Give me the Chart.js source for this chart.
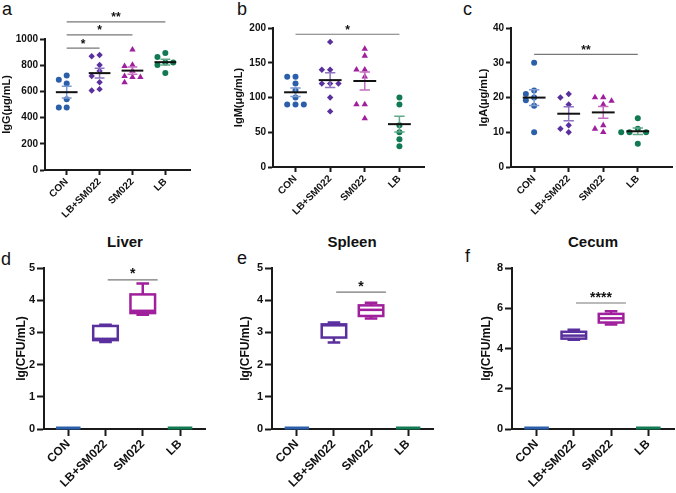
<!DOCTYPE html>
<html><head><meta charset="utf-8">
<script src="https://cdn.jsdelivr.net/npm/chart.js@4.4.1/dist/chart.umd.min.js"></script>
<style>
body{margin:0;background:#fff;width:676px;height:493px;position:relative;overflow:hidden;font-family:"Liberation Sans",Arial,sans-serif;}
canvas{position:absolute;}
.lbl{position:absolute;font-size:18px;color:#111;line-height:18px;}
.ttl{position:absolute;font-size:15px;font-weight:bold;color:#111;line-height:15px;transform:translateX(-50%);white-space:nowrap;}
</style></head><body>
<div class="lbl" style="left:2px;top:0px">a</div>
<div class="lbl" style="left:237px;top:0px">b</div>
<div class="lbl" style="left:463px;top:0px">c</div>
<div class="lbl" style="left:1px;top:250px">d</div>
<div class="lbl" style="left:237px;top:249px">e</div>
<div class="lbl" style="left:465px;top:247px">f</div>
<div class="ttl" style="left:125px;top:234px">Liver</div>
<div class="ttl" style="left:352px;top:234px">Spleen</div>
<div class="ttl" style="left:593px;top:234px">Cecum</div>
<canvas id="ca" width="226" height="235" style="left:0px;top:0px"></canvas>
<canvas id="cb" width="219" height="235" style="left:232px;top:0px"></canvas>
<canvas id="cc" width="199" height="235" style="left:477px;top:0px"></canvas>
<canvas id="cd" width="224" height="258" style="left:14px;top:235px"></canvas>
<canvas id="ce" width="241" height="258" style="left:238px;top:235px"></canvas>
<canvas id="cf" width="197" height="258" style="left:479px;top:235px"></canvas>
<script>
// ---------- data ----------
const categories = ['CON', 'LB+SM022', 'SM022', 'LB'];

const iggCON  = [721, 688, 660, 541, 477, 477];
const iggLBSM = [878, 868, 802, 756, 718, 670, 617, 607];
const iggSM   = [919, 802, 792, 756, 716, 708, 708, 668];
const iggLB   = [893, 863, 820, 820, 802, 741];

const igmCON  = [130, 130, 120, 110, 100, 90, 90, 90];
const igmLBSM = [180, 140, 140, 120, 120, 120, 100, 80];
const igmSM   = [170, 160, 140, 140, 130, 90, 90, 70];
const igmLB   = [100, 90, 60, 50, 40, 30];

const igaCON  = [30, 22, 21, 20, 19.2, 17.6, 10];
const igaLBSM = [21, 20, 18, 12, 11, 10];
const igaSM   = [20, 20, 19, 18, 12, 11, 10];
const igaLB   = [14, 11, 10, 10, 10, 6.7];

// box summaries: [min, q1, median, q3, max]
const liverCON  = [0, 0, 0, 0, 0];
const liverLBSM = [2.70, 2.76, 2.80, 3.20, 3.24];
const liverSM   = [3.55, 3.60, 3.67, 4.18, 4.52];
const liverLB   = [0, 0, 0, 0, 0];

const spleenCON  = [0, 0, 0, 0, 0];
const spleenLBSM = [2.69, 2.84, 3.22, 3.25, 3.31];
const spleenSM   = [3.43, 3.51, 3.70, 3.84, 3.92];
const spleenLB   = [0, 0, 0, 0, 0];

const cecumCON  = [0, 0, 0, 0, 0];
const cecumLBSM = [4.43, 4.49, 4.64, 4.83, 4.93];
const cecumSM   = [5.19, 5.29, 5.50, 5.72, 5.85];
const cecumLB   = [0, 0, 0, 0, 0];

const iggTicks = [0, 200, 400, 600, 800, 1000];
const igmTicks = [0, 50, 100, 150, 200];
const igaTicks = [0, 10, 20, 30, 40];
const cfuTicks = [0, 1, 2, 3, 4, 5];
const cecumTicks = [0, 2, 4, 6, 8];

// significance: [groupA, groupB, label, level]
const sigIgG = [[0, 1, '*', 931], [0, 2, '*', 1031], [0, 3, '**', 1130]];
const sigIgM = [[0, 3, '*', 191]];
const sigIgA = [[0, 3, '**', 32.4]];
const sigLiver = [[1, 2, '*', 4.63]];
const sigSpleen = [[1, 2, '*', 4.25]];
const sigCecum = [[1, 2, '****', 6.26]];

// ---------- style ----------
const FF = '"Liberation Sans", Arial, Helvetica, sans-serif';
const groupColors = ['#2c5faa', '#5a2f9e', '#a01f9c', '#127a52'];
const errColors = ['#7b9bd0', '#8f72c0', '#c56ec0', '#62a98a'];
const pointStyles = ['circle', 'rectRot', 'triangle', 'circle'];
const pointRadii = [3, 3.2, 3.7, 3];
const AX = '#1a1a1a';

function swarm(vals, thresh, step) {
  const idx = vals.map((v, i) => i).sort((a, b) => vals[b] - vals[a]);
  const placed = [];
  const off = new Array(vals.length).fill(0);
  const cands = [0, -1, 1, -2, 2, -3, 3];
  idx.forEach(i => {
    for (const c of cands) {
      if (!placed.some(p => p.c === c && Math.abs(p.v - vals[i]) < thresh)) {
        off[i] = c * step; placed.push({c, v: vals[i]}); break;
      }
    }
  });
  return off;
}

const statsPlugin = {
  id: 'stats',
  afterDatasetsDraw(chart, args, opts) {
    const {ctx} = chart;
    const x = chart.scales.x, y = chart.scales.y;
    ctx.save();
    ctx.lineCap = 'butt';
    (opts.groups || []).forEach((vals, i) => {
      const n = vals.length;
      const mean = vals.reduce((a, b) => a + b, 0) / n;
      const sd = Math.sqrt(vals.reduce((a, b) => a + (b - mean) ** 2, 0) / (n - 1));
      const sem = sd / Math.sqrt(n);
      const xc = x.getPixelForValue(i);
      const cw = x.getPixelForValue(i + 0.15) - xc;
      const mw = x.getPixelForValue(i + 0.33) - xc;
      const yT = y.getPixelForValue(mean + sem), yB = y.getPixelForValue(mean - sem), yM = y.getPixelForValue(mean);
      ctx.strokeStyle = errColors[i]; ctx.lineWidth = 1.5;
      ctx.beginPath();
      ctx.moveTo(xc, yT); ctx.lineTo(xc, yB);
      ctx.moveTo(xc - cw, yT); ctx.lineTo(xc + cw, yT);
      ctx.moveTo(xc - cw, yB); ctx.lineTo(xc + cw, yB);
      ctx.stroke();
      ctx.strokeStyle = '#111'; ctx.lineWidth = 2;
      ctx.beginPath(); ctx.moveTo(xc - mw, yM); ctx.lineTo(xc + mw, yM); ctx.stroke();
    });
    (opts.boxes || []).forEach((b, i) => {
      const [mn, q1, md, q3, mx] = b;
      const xc = x.getPixelForValue(i);
      const bw = x.getPixelForValue(i + 0.33) - xc;
      const cw = x.getPixelForValue(i + 0.17) - xc;
      ctx.strokeStyle = groupColors[i];
      if (q3 - q1 === 0) {
        ctx.lineWidth = 3;
        const yy = y.getPixelForValue(md) - 1;
        ctx.beginPath(); ctx.moveTo(xc - bw, yy); ctx.lineTo(xc + bw, yy); ctx.stroke();
        return;
      }
      ctx.lineWidth = 2.5;
      const pMn = y.getPixelForValue(mn), pQ1 = y.getPixelForValue(q1), pMd = y.getPixelForValue(md), pQ3 = y.getPixelForValue(q3), pMx = y.getPixelForValue(mx);
      ctx.beginPath();
      ctx.moveTo(xc, pQ3); ctx.lineTo(xc, pMx);
      ctx.moveTo(xc - cw, pMx); ctx.lineTo(xc + cw, pMx);
      ctx.moveTo(xc, pQ1); ctx.lineTo(xc, pMn);
      ctx.moveTo(xc - cw, pMn); ctx.lineTo(xc + cw, pMn);
      ctx.stroke();
      ctx.fillStyle = '#fff';
      ctx.fillRect(xc - bw, pQ3, 2 * bw, pQ1 - pQ3);
      ctx.strokeRect(xc - bw, pQ3, 2 * bw, pQ1 - pQ3);
      ctx.beginPath(); ctx.moveTo(xc - bw, pMd); ctx.lineTo(xc + bw, pMd); ctx.stroke();
    });
    const sh = opts.sigShift || [0, 0];
    (opts.sig || []).forEach(([a, b, label, level]) => {
      const x1 = x.getPixelForValue(a + sh[0]), x2 = x.getPixelForValue(b + sh[1]);
      const yy = y.getPixelForValue(level);
      ctx.strokeStyle = '#777'; ctx.lineWidth = 1.2;
      ctx.beginPath(); ctx.moveTo(x1, yy); ctx.lineTo(x2, yy); ctx.stroke();
      ctx.fillStyle = '#111';
      ctx.font = 'bold ' + opts.sigFont + 'px ' + FF;
      ctx.textAlign = 'center'; ctx.textBaseline = 'alphabetic';
      ctx.fillText(label, (x1 + x2) / 2, yy - opts.sigGap);
    });
    ctx.restore();
  }
};

function makeChart(id, L, cfg) {
  const yMax = cfg.ticks[cfg.ticks.length - 1];
  const datasets = (cfg.groups || []).map((vals, i) => {
    const off = swarm(vals, yMax * 0.045, 0.24);
    return {
      data: vals.map((v, k) => ({x: i + off[k], y: v})),
      pointStyle: pointStyles[i], pointRadius: pointRadii[i],
      backgroundColor: groupColors[i], borderColor: groupColors[i], borderWidth: 0, clip: false
    };
  });
  const grid = {display: true, drawOnChartArea: false, drawTicks: true, tickLength: L.tl, tickWidth: L.bw, tickColor: AX};
  const border = {display: true, color: AX, width: L.bw};
  new Chart(document.getElementById(id), {
    type: 'scatter',
    data: {datasets},
    options: {
      responsive: false, animation: false, events: [],
      layout: {padding: {top: L.pt, right: L.pr, left: 0, bottom: 0}},
      plugins: {
        legend: {display: false}, tooltip: {enabled: false},
        stats: {groups: cfg.groups, boxes: cfg.boxes, sig: cfg.sig, sigShift: cfg.sigShift, sigFont: L.sf, sigGap: L.sg}
      },
      scales: {
        x: {
          type: 'linear', min: L.xmin, max: L.xmax,
          afterBuildTicks: s => { s.ticks = categories.map((c, i) => ({value: i})); },
          afterFit: s => { s.height = L.xh; },
          ticks: {autoSkip: false, maxRotation: 45, minRotation: 45, padding: 1, color: '#111',
            font: {family: FF, size: L.xfs, weight: 'bold'}, callback: v => categories[v]},
          grid, border
        },
        y: {
          min: 0, max: yMax,
          afterBuildTicks: s => { s.ticks = cfg.ticks.map(v => ({value: v})); },
          afterFit: s => { s.width = L.yw; },
          ticks: {padding: 2, color: '#111', font: {family: FF, size: L.yfs, weight: 'bold'}, callback: v => String(v)},
          grid, border,
          title: {display: true, text: cfg.title, color: '#111', padding: {top: 0, bottom: 0},
            font: {family: FF, size: L.tfs, weight: 'bold'}}
        }
      }
    },
    plugins: [statsPlugin]
  });
}

const topRow = {tl: 5, bw: 2, xfs: 10, yfs: 10, tfs: 11, sf: 12, sg: 0.5};
const botRow = {tl: 7, bw: 2, xfs: 12, yfs: 11, tfs: 12, sf: 14, sg: 1.5};

makeChart('ca', Object.assign({}, topRow, {yw: 45, xh: 65, pt: 39, pr: 36, xmin: -0.66, xmax: 3.75}),
  {groups: [iggCON, iggLBSM, iggSM, iggLB], ticks: iggTicks, title: 'IgG(μg/mL)', sig: sigIgG});
makeChart('cb', Object.assign({}, topRow, {yw: 41, xh: 68, pt: 28, pr: 27, xmin: -0.65, xmax: 3.71}),
  {groups: [igmCON, igmLBSM, igmSM, igmLB], ticks: igmTicks, title: 'IgM(μg/mL)', sig: sigIgM});
makeChart('cc', Object.assign({}, topRow, {yw: 34, xh: 68, pt: 28, pr: 2, xmin: -0.67, xmax: 3.99}),
  {groups: [igaCON, igaLBSM, igaSM, igaLB], ticks: igaTicks, title: 'IgA(μg/mL)', sig: sigIgA});
makeChart('cd', Object.assign({}, botRow, {yw: 30, xh: 64, pt: 33, pr: 33, xmin: -0.65, xmax: 3.67}),
  {boxes: [liverCON, liverLBSM, liverSM, liverLB], ticks: cfuTicks, title: 'lg(CFU/mL)', sig: sigLiver, sigShift: [0.06, 0.4]});
makeChart('ce', Object.assign({}, botRow, {yw: 34, xh: 64, pt: 33, pr: 46, xmin: -0.67, xmax: 3.67}),
  {boxes: [spleenCON, spleenLBSM, spleenSM, spleenLB], ticks: cfuTicks, title: 'lg(CFU/mL)', sig: sigSpleen, sigShift: [0.06, 0.4]});
makeChart('cf', Object.assign({}, botRow, {yw: 33, xh: 64, pt: 33, pr: 2, xmin: -0.66, xmax: 3.69}),
  {boxes: [cecumCON, cecumLBSM, cecumSM, cecumLB], ticks: cecumTicks, title: 'lg(CFU/mL)', sig: sigCecum, sigShift: [0.06, 0.4]});
</script>
</body></html>
